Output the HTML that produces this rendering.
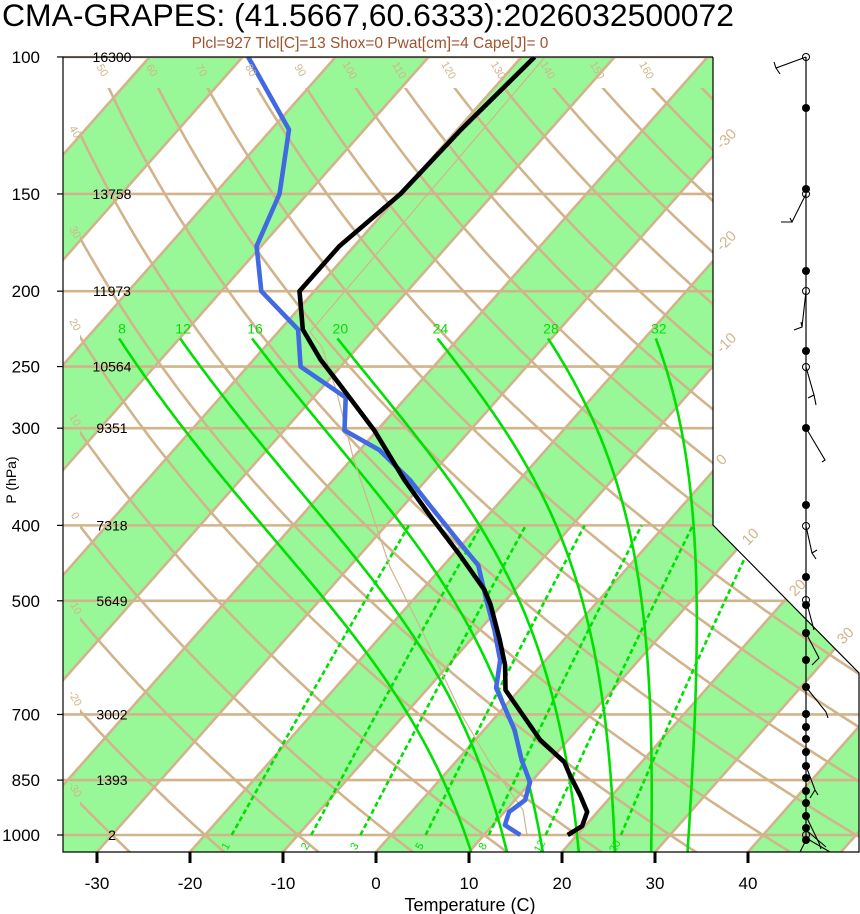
<!DOCTYPE html>
<html><head><meta charset="utf-8"><style>
html,body{margin:0;padding:0;background:#fff;}
svg{display:block;font-family:"Liberation Sans",sans-serif;}
</style></head><body>
<svg id="chart" width="860" height="914" viewBox="0 0 860 914">
<defs>
<clipPath id="plotClip"><polygon points="63,57 713,57 713,525 859,673 859,852 63,852"/></clipPath>
<clipPath id="dryClip"><rect x="80" y="88" width="790" height="770"/></clipPath>
</defs>
<text x="2" y="26" font-size="31.5" fill="#000" textLength="732" lengthAdjust="spacingAndGlyphs">CMA-GRAPES: (41.5667,60.6333):2026032500072</text>
<text x="370" y="48" font-size="15.5" fill="#a0522d" text-anchor="middle">Plcl=927 Tlcl[C]=13 Shox=0 Pwat[cm]=4 Cape[J]= 0</text>
<g id="plot" clip-path="url(#plotClip)"></g>
<g id="over"></g>
</svg>
<script>
const pLevels=[100,150,200,250,300,400,500,700,850,1000];
const heights=['16300','13758','11973','10564','9351','7318','5649','3002','1393','2'];
const tTicks=[-30,-20,-10,0,10,20,30,40];
const tempP=[1000,974,934,888,837,806,755,651,605,561,506,484,437,388,350,302,264,245,224,200,175,150,124,100];
const tempT=[19.0,19.7,18.9,16.5,13.5,11.7,7.0,-1.5,-3.9,-6.9,-11.2,-13.3,-19.2,-26.3,-32.3,-40.3,-48.3,-52.8,-57.6,-61.6,-61.6,-60.0,-59.6,-58.6];
const dewP=[1000,971,934,902,855,801,733,647,596,545,499,450,424,377,350,320,302,274,250,224,200,175,150,124,100];
const dewT=[13.9,11.3,10.5,11.1,9.9,6.9,3.3,-2.7,-4.9,-8.4,-12.1,-16.3,-20.0,-27.2,-31.7,-37.9,-43.5,-46.5,-54.3,-58.1,-65.7,-70.5,-73.0,-78.1,-89.4];
const moistThetaW=[8,12,16,20,24,28,32];
const mixRatios=[1,2,3,5,8,12,20];
const dryThetas=[-30,-20,-10,0,10,20,30,40,50,60,70,80,90,100,110,120,130,140,150,160,170];
const windDotsFilled=[108,189,271,351,428,505,577,605,633,660,687,714,727,739,752,766,778,791,803,816,828,840];
const windDotsOpen=[57,194,291,367,526,600,835];

const SKEW=0.885;
const NS='http://www.w3.org/2000/svg';
const plot=document.getElementById('plot'), over=document.getElementById('over');
function yP(p){return 835+337.9*Math.log(p/1000);}
function xT(T,y){return 376+9.3*T+SKEW*(852-y);}
function mk(tag,attrs,parent){const e=document.createElementNS(NS,tag);for(const k in attrs)e.setAttribute(k,attrs[k]);parent.appendChild(e);return e;}
function pathD(pts){return pts.map((q,i)=>(i?'L':'M')+q[0].toFixed(1)+','+q[1].toFixed(1)).join('');}
const TAN='#d2b48c';

for(let T0=-120;T0<=40;T0+=20){
  const d=pathD([[xT(T0,852),852],[xT(T0,57),57],[xT(T0+10,57),57],[xT(T0+10,852),852]])+'Z';
  const e=mk('path',{d:d,fill:'#98f898',stroke:'none'},plot);
  
  
}
pLevels.forEach(p=>{const y=yP(p);
  const e=mk('line',{x1:63,y1:y,x2:860,y2:y,stroke:TAN,'stroke-width':2.6},plot);
  
  
});
for(let T=-120;T<=60;T+=10){
  const e=mk('line',{x1:xT(T,852),y1:852,x2:xT(T,57),y2:57,stroke:TAN,'stroke-width':2.6},plot);
  
  
}
const dryG=mk('g',{'clip-path':'url(#dryClip)'},plot);
function dryPts(th){const pts=[];for(let p=1060;p>=95;p-=5){const T=(th+273.15)*Math.pow(p/1000,0.286)-273.15;const y=yP(p);pts.push([xT(T,y),y]);}return pts;}
dryThetas.forEach(th=>{
  const e=mk('path',{d:pathD(dryPts(th)),fill:'none',stroke:TAN,'stroke-width':2.6},dryG);
  
  
});
function dTdp(T,p){const Tc=T-273.15;const es=6.112*Math.exp(17.67*Tc/(Tc+243.5));const rs=0.622*es/(p-es);
  return (287.04*T+2.5e6*rs)/(p*(1004+2.5e6*2.5e6*rs*0.622/(287.04*T*T)));}
function moistPts(thw,pTop){let T=thw+273.15,p=1000;
  let Td=T;for(let pp=1000;pp<1060;pp+=2){const k1=dTdp(Td,pp);const k2=dTdp(Td+k1*1,pp+1);Td+=k2*2;}
  const pts=[];const y0=yP(1060);pts.push([xT(Td-273.15,y0),y0]);
  pts.push([xT(thw,yP(1000)),yP(1000)]);
  while(p>pTop){const dp=-2;const k1=dTdp(T,p);const k2=dTdp(T+k1*dp/2,p+dp/2);T+=k2*dp;p+=dp;const y=yP(p);pts.push([xT(T-273.15,y),y]);}
  return pts;}
moistThetaW.forEach(thw=>{
  const pts=moistPts(thw,231);
  const e=mk('path',{d:pathD(pts),fill:'none',stroke:'#00e000','stroke-width':2.6},plot);
  
  
  const top=pts[pts.length-1];
  const t=mk('text',{x:top[0]+3,y:top[1]-5,'font-size':14,fill:'#00e000','text-anchor':'middle'},over);
  t.textContent=thw;
  
  
});
function tdFromW(w,p){const e=w*p/(622+w);const l=Math.log(e/6.112);return 243.5*l/(17.67-l);}
mixRatios.forEach(w=>{const pts=[];for(let p=1000;p>=400;p-=10){const y=yP(p);pts.push([xT(tdFromW(w,p),y),y]);}
  const e=mk('path',{d:pathD(pts),fill:'none',stroke:'#00e000','stroke-width':2.6,'stroke-dasharray':'5,3'},plot);
  
  
  const x=pts[0][0]-3;
  const t=mk('text',{x:x,y:848,'font-size':11,fill:'#00e000','text-anchor':'middle',transform:'rotate(-60 '+x+' 848)'},plot);
  t.textContent=w;
  
  
});
{const e=mk('polyline',{points:'545,57 310,332 322,347 337,393 353,457 373,517 390,567 423,633 463,717 490,763 523,810 527,835',fill:'none',stroke:TAN,'stroke-width':1.2},plot);

}
function sounding(P,T,color,name){const pts=P.map((p,i)=>{const y=yP(p);return [xT(T[i],y),y];});
  const e=mk('path',{d:pathD(pts),fill:'none',stroke:color,'stroke-width':4.6,'stroke-linejoin':'round'},plot);
  
  }
sounding(dewP,dewT,'#4169e1','dewpoint-profile');
sounding(tempP,tempT,'#000','temperature-profile');

{const e=mk('polyline',{points:'713,57 63,57 63,852 859,852 859,673 713,525 713,57',fill:'none',stroke:'#000','stroke-width':1.2},over);

}
pLevels.forEach((p,i)=>{const y=yP(p);
  const t=mk('text',{x:40,y:y+6,'font-size':17,'text-anchor':'end',fill:'#000'},over);t.textContent=p;
  
  
  const tk=mk('line',{x1:57,y1:y,x2:63,y2:y,stroke:'#000','stroke-width':1.2},over);
  
  
  const h=mk('text',{x:112,y:y+5,'font-size':14,'text-anchor':'middle',fill:'#000'},over);h.textContent=heights[i];
  
  
});
{const t=mk('text',{x:16,y:480,'font-size':14,'text-anchor':'middle',transform:'rotate(-90 16 480)'},over);t.textContent='P (hPa)';

}
tTicks.forEach(T=>{const x=376+9.3*T;
  const tk=mk('line',{x1:x,y1:852,x2:x,y2:863,stroke:'#000','stroke-width':3},over);
  
  
  const t=mk('text',{x:x,y:889,'font-size':17,'text-anchor':'middle'},over);t.textContent=T;
  
  
});
{const t=mk('text',{x:470,y:911,'font-size':18,'text-anchor':'middle'},over);t.textContent='Temperature (C)';

}
[[-30,722,150],[-20,722,252],[-10,722,354],[0,722,466],[10,748,546],[20,795,597],[30,843,645]].forEach(a=>{
  const t=mk('text',{x:a[1],y:a[2],'font-size':15,fill:TAN,transform:'rotate(-45 '+a[1]+' '+a[2]+')'},over);t.textContent=a[0];
  
  
});
dryThetas.forEach(th=>{const pts=dryPts(th);let lab=null;
  for(const q of pts){if(q[1]>=88&&q[0]>=80&&q[1]<=852)lab=q;}
  if(!lab)return;let lx,ly;
  if(th>=50){if(th>160)return;lx=lab[0]-10;ly=72;}else{lx=72;ly=lab[1]-12;}
  const t=mk('text',{x:lx,y:ly,'font-size':11,fill:TAN,'text-anchor':'middle',transform:'rotate(60 '+lx+' '+ly+')'},over);t.textContent=th;
  
  
});
{const ax=mk('line',{x1:806,y1:57,x2:806,y2:842,stroke:'#000','stroke-width':1.2},over);

}
windDotsFilled.forEach(y=>{const c=mk('circle',{cx:806,cy:y,r:4,fill:'#000'},over);
  
  });
windDotsOpen.forEach(y=>{const c=mk('circle',{cx:806,cy:y,r:3.5,fill:'none',stroke:'#000','stroke-width':1},over);
  
  });
const barbs=['806,57 776,68 774,62 776,68 780,74','806,194 792,222 781,222 792,222 790,218','806,291 802,327 794,330 802,327 801,322','806,367 814,395 816,405 814,395 808,398','806,428 825,460 822,462','806,526 812,553 816,559 812,553 817,550','806,600 814,630','806,633 819,658 812,665 819,658','806,687 826,712 828,718','806,766 815,790 818,795 815,790 810,798','806,816 819,843 821,849','806,838 830,852','806,830 826,847','806,840 800,852'];
barbs.forEach(s=>{const b=mk('polyline',{points:s,fill:'none',stroke:'#000','stroke-width':1.1},over);
  
  });
</script>
</body></html>
